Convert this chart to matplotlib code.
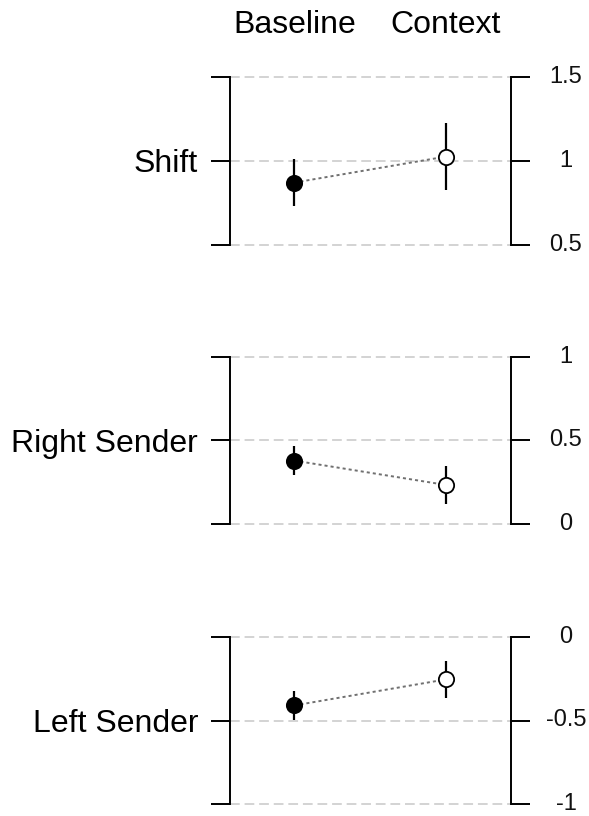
import matplotlib
matplotlib.use('Agg')
import matplotlib.pyplot as plt
import matplotlib.transforms as mtransforms

conditions = ['Baseline', 'Context']
measures = ['Shift', 'Right Sender', 'Left Sender']
baseline_means = [0.87, 0.38, -0.41]
baseline_err = [0.14, 0.085, 0.085]
context_means = [1.025, 0.235, -0.255]
context_err = [0.20, 0.115, 0.112]
y_ticks = [[0.5, 1.0, 1.5], [0.0, 0.5, 1.0], [-1.0, -0.5, 0.0]]
y_ticklabels = [['0.5', '1', '1.5'], ['0', '0.5', '1'], ['-1', '-0.5', '0']]

plt.rcParams['font.family'] = ['Liberation Sans', 'DejaVu Sans']
plt.rcParams['lines.scale_dashes'] = False

W, H = 589, 816
fig = plt.figure(figsize=(W / 100, H / 100), dpi=100)

x_pos = [1, 2]
xlim = (0.575, 2.431)
left_px, right_px = 230, 511
tops = [77, 356.7, 636.7]
panel_h = 167.6

axes = []
for i, name in enumerate(measures):
    bottom = 1 - (tops[i] + panel_h) / H
    ax = fig.add_axes([left_px / W, bottom, (right_px - left_px) / W, panel_h / H])
    axes.append(ax)
    yt = y_ticks[i]
    ax.set_xlim(*xlim)
    ax.set_ylim(yt[0], yt[-1])
    # grid lines
    ax.hlines(yt, xlim[0], xlim[1], colors='#c8c8c8', linewidth=1.1,
              linestyles=[(0, (7, 3.5))], zorder=0, clip_on=False)
    # connecting line
    ax.plot(x_pos, [baseline_means[i], context_means[i]], color='#707070',
            linewidth=1.4, linestyle=(0, (2.2, 2.2)), zorder=1)
    # error bars
    ax.errorbar(x_pos, [baseline_means[i], context_means[i]],
                yerr=[baseline_err[i], context_err[i]], fmt='none',
                ecolor='black', elinewidth=1.6, capsize=0, zorder=2)
    ax.plot(x_pos[0], baseline_means[i], 'o', ms=11, mfc='black', mec='black',
            mew=1.3, zorder=3)
    ax.plot(x_pos[1], context_means[i], 'o', ms=11, mfc='white', mec='black',
            mew=1.3, zorder=3)

    for s in ['top', 'bottom']:
        ax.spines[s].set_visible(False)
    for s in ['left', 'right']:
        ax.spines[s].set_linewidth(1.4)
    ax.set_xticks([])
    ax.set_yticks(yt)
    ax.tick_params(axis='y', which='both', direction='out', length=14, width=1.4,
                   left=True, right=True, labelleft=True, labelright=False,
                   pad=9, labelsize=23)
    ax.set_yticklabels(['', name, ''])
    # right side labels, centered
    for y, lab in zip(yt, y_ticklabels[i]):
        ax.annotate(lab, xy=(1, y), xycoords=('axes fraction', 'data'),
                    xytext=(55, 0), textcoords='offset pixels',
                    ha='center', va='center', fontsize=17, color='#111111')

# header labels
trans = mtransforms.blended_transform_factory(axes[0].transData, fig.transFigure)
for xp, c in zip(x_pos, conditions):
    fig.text(xp, 1 - 33.3 / H, c, transform=trans, ha='center', va='baseline',
             fontsize=23, color='black')

fig.savefig('out.png', dpi=100)
